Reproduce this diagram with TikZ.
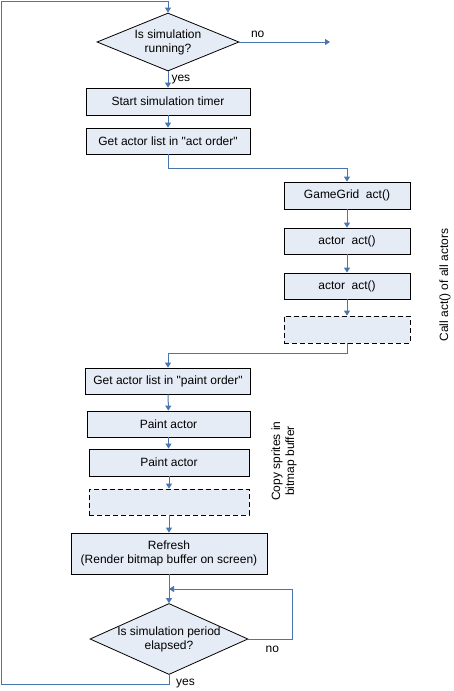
\documentclass[tikz,border=0pt]{standalone}
\usepackage{fontspec}
\setmainfont{Liberation Sans}
\usetikzlibrary{shapes.geometric,arrows.meta}
\definecolor{flowline}{HTML}{4A76B0}
\definecolor{boxfill}{HTML}{E6ECF6}
\begin{document}
\begin{tikzpicture}[x=1pt,y=-1pt,font=\fontsize{12}{14}\selectfont]
        \tikzstyle{step box}=[rectangle,draw=black,line width=0.8pt,fill=boxfill,inner sep=0pt,align=center]
        \tikzstyle{dashed box}=[step box,dashed,dash pattern=on 5pt off 3pt]
        \tikzstyle{decision}=[diamond,draw=black,line width=0.8pt,fill=boxfill,inner sep=0pt,align=center]
        \tikzstyle{edge}=[draw=flowline,line width=1pt,-{Triangle[width=6pt,length=5pt]}]
        \tikzstyle{tag}=[inner sep=0pt,align=center]
        \useasboundingbox (0,0) rectangle (453,691);
       \begin{scope}
         % simulation loop
         \node [decision,aspect=2.45,minimum width=142pt,minimum height=58pt] (running) at (168,42) {Is simulation\\running?};
         \node [step box,minimum width=164pt,minimum height=27pt] (timer) at (168,101.5) {Start simulation timer};
         \node [step box,minimum width=164pt,minimum height=26pt] (actlist) at (168,141) {Get actor list in \textquotedbl act order\textquotedbl};
         \node [step box,minimum width=126pt,minimum height=27pt] (gridact) at (347,195.5) {GameGrid\ \ act()};
         \node [step box,minimum width=126pt,minimum height=26pt] (actor1) at (347,241) {actor\ \ act()};
         \node [step box,minimum width=126pt,minimum height=26pt] (actor2) at (347,286) {actor\ \ act()};
         \node [dashed box,minimum width=126pt,minimum height=27pt] (actormore) at (347,329.5) {};
         \node [step box,minimum width=165pt,minimum height=26pt] (paintlist) at (168,381) {Get actor list in \textquotedbl paint order\textquotedbl};
         \node [step box,minimum width=163pt,minimum height=26pt] (paint1) at (168.5,424) {Paint actor};
         \node [step box,minimum width=160pt,minimum height=27pt] (paint2) at (169,462.5) {Paint actor};
         \node [dashed box,minimum width=160pt,minimum height=26pt] (paintmore) at (169,502) {};
         \node [step box,minimum width=196pt,minimum height=41pt] (refresh) at (169,553.5) {Refresh\\(Render bitmap buffer on screen)};
         \node [decision,aspect=2.23,inner xsep=-8pt,minimum width=158pt,minimum height=71pt] (elapsed) at (169,639) {Is simulation period\\elapsed?};
         % side notes
         \node [tag,rotate=90] (actnote) at (445,285) {Call act() of all actors};
         \node [tag,rotate=90] (paintnote) at (284,461) {Copy sprites in\\bitmap buffer};
         % free ends
         \coordinate (noexit) at (330,42);
         \coordinate (loopbottom) at (1,684);
         \coordinate (looptop) at (1,1);
         \coordinate (waitjoin) at (169,589);
         % connectors
         \path[edge] (running) -- node[tag,above,xshift=-27pt,yshift=4pt] {no} (noexit);
         \path[edge] (running) -- node[tag,right,xshift=3pt] {yes} (timer);
         \path[edge] (timer) -- (actlist);
         \path[edge] (actlist.south) -- ++(0,14) -| (gridact.north);
         \path[edge] (gridact) -- (actor1);
         \path[edge] (actor1) -- (actor2);
         \path[edge] (actor2) -- (actormore);
         \path[edge] (actormore.south) -- ++(0,10) -| (paintlist.north);
         \path[edge] (paintlist) -- (paint1);
         \path[edge] (paint1.south) -- (paint1.south |- paint2.north);
         \path[edge] (paint2) -- (paintmore);
         \path[edge] (paintmore) -- (refresh);
         \path[edge] (refresh) -- (elapsed);
         \path[edge] (elapsed.east) -- node[tag,below,xshift=2pt,yshift=-7pt] {no} ++(44,0) |- (waitjoin);
         \path[edge] (elapsed.south) |- (loopbottom) -- (looptop) -| (running.north);
         \node [tag,right] (yesend) at (176,684) {yes};
        \end{scope}
      \end{tikzpicture}
\end{document}
